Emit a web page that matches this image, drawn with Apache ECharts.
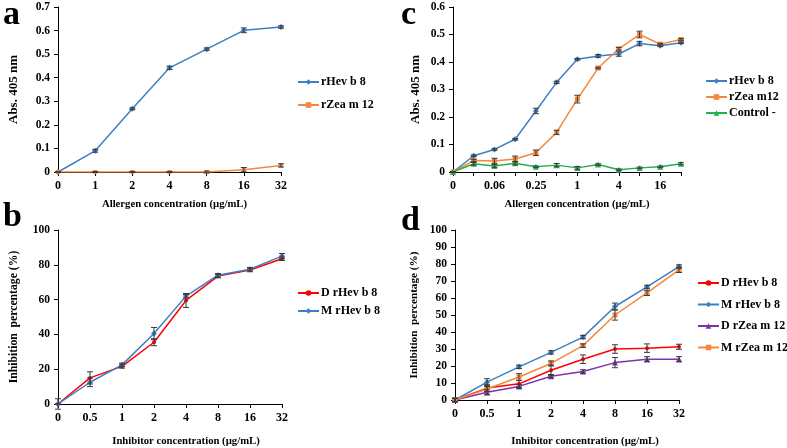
<!DOCTYPE html>
<html><head><meta charset="utf-8">
<script src="https://cdn.jsdelivr.net/npm/echarts@6/dist/echarts.min.js"></script>
<style>html,body{margin:0;padding:0;background:#fff}#c{width:787px;height:448px}</style>
</head><body><div id="c"></div>
<script>
// ---- Panel a ----
const catsA = ['0','1','2','4','8','16','32'];
const aHev = [0,0.09,0.268,0.442,0.521,0.601,0.615];
const aHevErr = [0,0.006,0.004,0.007,0.005,0.01,0.005];
const aZea = [0,0,0,0,0,0.01,0.028];
const aZeaErr = [0,0.002,0.002,0.002,0.004,0.009,0.007];
// ---- Panel c ----
const catsC = ['0','0.03','0.06','0.125','0.25','0.5','1','2','4','8','16','32'];
const cHev = [0,0.059,0.082,0.119,0.222,0.326,0.41,0.422,0.429,0.467,0.459,0.47];
const cHevErr = [0,0.003,0.003,0.003,0.01,0.004,0.003,0.005,0.008,0.008,0.003,0.003];
const cZea = [0,0.042,0.04,0.047,0.07,0.144,0.265,0.378,0.448,0.5,0.465,0.482];
const cZeaErr = [0,0.004,0.01,0.011,0.01,0.008,0.014,0.003,0.005,0.012,0.003,0.003];
const cCtrl = [0,0.03,0.022,0.032,0.019,0.025,0.015,0.027,0.008,0.015,0.019,0.03];
const cCtrlErr = [0,0.005,0.005,0.006,0.003,0.006,0.005,0.003,0.003,0.003,0.003,0.004];
// ---- Panel b ----
const catsB = ['0','0.5','1','2','4','8','16','32'];
const bD = [0,15,21.6,35.5,59.5,73.5,77,83.5];
const bDErr = [3,3.5,1,2,4,1,1,1];
const bM = [0,12.5,22.5,40.5,62,74,77.5,85];
const bMErr = [0,2.5,1,3.5,1,1,1,1.5];
// ---- Panel d ----
const catsD = ['0','0.5','1','2','4','8','16','32'];
const dDHev = [0,7,9.5,17.5,24,30,30.5,31.3];
const dDHevErr = [1,2,2,3,2.5,2.5,2.5,1.5];
const dMHev = [0,10.5,19.5,28,37,55,66.5,78.5];
const dMHevErr = [1,2,1,1,1,2,1,1];
const dDZea = [0,4.5,8,14,16.8,22,24,24];
const dDZeaErr = [1,1.5,1,1,1,3,1.5,1.5];
const dMZea = [0,6.5,13.5,21.5,32,50,63,76.5];
const dMZeaErr = [1,1.5,2,1.5,1,3,1.5,1.5];

const BLUE = '#3d7fc7', ORANGE = '#f5873a', GREEN = '#22b14c', RED = '#ff0000', PURPLE = '#7b35a8';
const FONT = 'Liberation Serif';
const chart = echarts.init(document.getElementById('c'));

function xAx(grid, cats, name, gap, labelInterval, shift) {
  return {
    type: 'category', gridIndex: grid, data: cats, boundaryGap: false,
    name: name, nameLocation: 'middle', nameGap: gap,
    nameTextStyle: { fontFamily: FONT, fontWeight: 'bold', fontSize: 10.7, color: '#000', padding: [0, 0, 0, shift] },
    axisLine: { lineStyle: { color: '#000', width: 1 } },
    axisTick: { show: true, interval: 0, length: 4, lineStyle: { color: '#000' } },
    axisLabel: { interval: labelInterval, fontFamily: FONT, fontWeight: 'bold', fontSize: 12, color: '#000', margin: 8 },
    splitLine: { show: false }
  };
}
function yAx(grid, max, interval, name, gap, fmt, fs) {
  return {
    type: 'value', gridIndex: grid, min: 0, max: max, interval: interval,
    name: name, nameLocation: 'middle', nameGap: gap,
    nameTextStyle: { fontFamily: FONT, fontWeight: 'bold', fontSize: fs, color: '#000' },
    axisLine: { show: true, lineStyle: { color: '#000', width: 1 } },
    axisTick: { show: true, length: 4, lineStyle: { color: '#000' } },
    axisLabel: { fontFamily: FONT, fontWeight: 'bold', fontSize: 11.5, color: '#000', margin: 8, formatter: fmt },
    splitLine: { show: false }
  };
}
function lineS(name, idx, data, color, symbol, size) {
  return {
    type: 'line', name: name, xAxisIndex: idx, yAxisIndex: idx, data: data,
    symbol: symbol, symbolSize: size, showSymbol: true,
    lineStyle: { color: color, width: 1.5 }, itemStyle: { color: color },
    animation: false, z: 3
  };
}
function errS(idx, vals, errs) {
  const data = vals.map((v, i) => [i, v - errs[i], v + errs[i]]);
  return {
    type: 'custom', xAxisIndex: idx, yAxisIndex: idx, data: data, z: 4, animation: false,
    encode: { x: 0, y: [1, 2] },
    renderItem: function (params, api) {
      const i = api.value(0);
      const lo = api.coord([i, api.value(1)]);
      const hi = api.coord([i, api.value(2)]);
      const w = 3;
      const st = { stroke: '#3a3a3a', lineWidth: 1 };
      return { type: 'group', children: [
        { type: 'line', shape: { x1: lo[0], y1: lo[1], x2: hi[0], y2: hi[1] }, style: st },
        { type: 'line', shape: { x1: lo[0]-w, y1: lo[1], x2: lo[0]+w, y2: lo[1] }, style: st },
        { type: 'line', shape: { x1: hi[0]-w, y1: hi[1], x2: hi[0]+w, y2: hi[1] }, style: st }
      ]};
    }
  };
}
function legend(left, top, names, gap) {
  return {
    orient: 'vertical', left: left, top: top, data: names, itemGap: gap,
    itemWidth: 21, itemHeight: 7, selectedMode: false,
    textStyle: { fontFamily: FONT, fontWeight: 'bold', fontSize: 12, lineHeight: 14, color: '#000', padding: [0,0,0,-3] },
    padding: 0
  };
}
const fmt1 = v => (v === 0 ? '0' : v.toFixed(1));
const fmt0 = v => String(v);

const option = {
  backgroundColor: '#fff',
  animation: false,
  grid: [
    { left: 58, top: 7, width: 223, height: 165 },
    { left: 453, top: 7, width: 228, height: 165 },
    { left: 58, top: 230, width: 224, height: 176 },
    { left: 455, top: 230, width: 224, height: 176 }
  ],
  xAxis: [
    xAx(0, catsA, 'Allergen concentration (µg/mL)', 27, 0, 10),
    xAx(1, catsC, 'Allergen concentration (µg/mL)', 27, 1, 20),
    xAx(2, catsB, 'Inhibitor concentration (µg/mL)', 32, 0, 32),
    xAx(3, catsD, 'Inhibitor concentration (µg/mL)', 36, 0, 36)
  ],
  yAxis: [
    yAx(0, 0.7, 0.1, 'Abs. 405 nm', 38, fmt1, 13),
    yAx(1, 0.6, 0.1, 'Abs. 405 nm', 31, fmt1, 13),
    yAx(2, 100, 20, 'Inhibition  percentage (%)', 38, fmt0, 11.7),
    yAx(3, 100, 10, 'Inhibition  percentage (%)', 35, fmt0, 11.2)
  ],
  legend: [
    legend(297, 75, ['rHev b 8', 'rZea m 12'], 9),
    legend(705, 74, ['rHev b 8 ', 'rZea m12', 'Control -'], 2),
    legend(297, 286, ['D rHev b 8', 'M rHev b 8'], 4),
    legend(697, 276, ['D rHev b 8 ', 'M rHev b 8 ', 'D rZea m 12', 'M rZea m 12'], 7.5)
  ],
  series: [
    lineS('rHev b 8', 0, aHev, BLUE, 'diamond', 6),
    lineS('rZea m 12', 0, aZea, ORANGE, 'rect', 4),
    errS(0, aHev, aHevErr), errS(0, aZea, aZeaErr),

    lineS('rHev b 8 ', 1, cHev, BLUE, 'diamond', 6),
    lineS('rZea m12', 1, cZea, ORANGE, 'rect', 5),
    lineS('Control -', 1, cCtrl, GREEN, 'triangle', 6),
    errS(1, cHev, cHevErr), errS(1, cZea, cZeaErr), errS(1, cCtrl, cCtrlErr),

    lineS('D rHev b 8', 2, bD, RED, 'circle', 4),
    lineS('M rHev b 8', 2, bM, BLUE, 'diamond', 6),
    errS(2, bD, bDErr), errS(2, bM, bMErr),

    lineS('D rHev b 8 ', 3, dDHev, RED, 'circle', 4),
    lineS('M rHev b 8 ', 3, dMHev, BLUE, 'diamond', 6),
    lineS('D rZea m 12', 3, dDZea, PURPLE, 'triangle', 6),
    lineS('M rZea m 12', 3, dMZea, ORANGE, 'rect', 5),
    errS(3, dDHev, dDHevErr), errS(3, dMHev, dMHevErr), errS(3, dDZea, dDZeaErr), errS(3, dMZea, dMZeaErr)
  ],
  graphic: [
    { type: 'text', left: 3, top: -2, style: { text: 'a', font: 'bold 34px "Liberation Serif"', fill: '#000' } },
    { type: 'text', left: 401, top: -2, style: { text: 'c', font: 'bold 34px "Liberation Serif"', fill: '#000' } },
    { type: 'text', left: 3, top: 200, style: { text: 'b', font: 'bold 34px "Liberation Serif"', fill: '#000' } },
    { type: 'text', left: 401, top: 204, style: { text: 'd', font: 'bold 34px "Liberation Serif"', fill: '#000' } }
  ]
};
chart.setOption(option);
</script></body></html>
